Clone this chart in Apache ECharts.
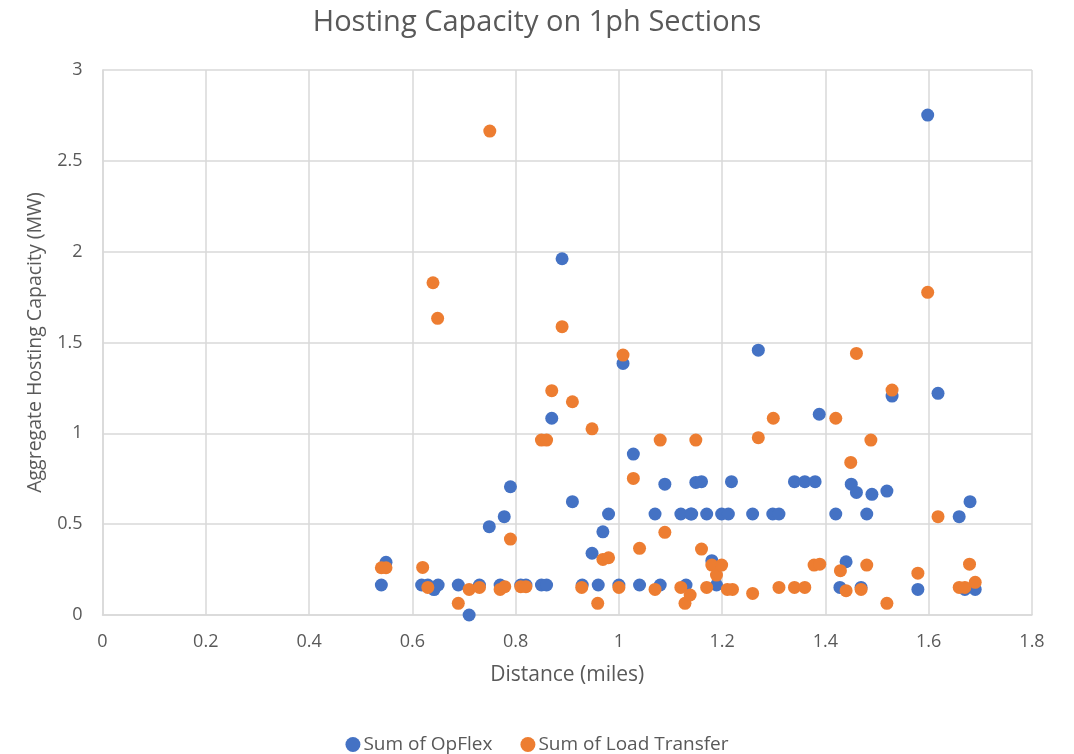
<!DOCTYPE html>
<html>
<head>
<meta charset="utf-8">
<script src="https://cdn.jsdelivr.net/npm/echarts@6/dist/echarts.min.js"></script>
<style>
  html, body { margin: 0; padding: 0; background: #fff; }
  #chart { width: 1074px; height: 754px; }
</style>
</head>
<body>
<div id="chart"></div>
<script>
// Distance (miles) and aggregate hosting capacity (MW) per 1ph section
const opflexX = [0.54, 0.549, 0.618, 0.63, 0.642, 0.65, 0.689, 0.71, 0.73, 0.749, 0.77, 0.778, 0.79, 0.81, 0.82, 0.85, 0.86, 0.87, 0.89, 0.91, 0.929, 0.948, 0.96, 0.969, 0.98, 1.0, 1.008, 1.028, 1.04, 1.07, 1.08, 1.089, 1.12, 1.13, 1.139, 1.141, 1.149, 1.16, 1.17, 1.18, 1.189, 1.199, 1.212, 1.218, 1.259, 1.27, 1.298, 1.31, 1.34, 1.36, 1.38, 1.388, 1.42, 1.428, 1.44, 1.45, 1.46, 1.469, 1.48, 1.49, 1.519, 1.529, 1.579, 1.598, 1.618, 1.659, 1.67, 1.68, 1.69];
const opflexY = [0.165, 0.29, 0.165, 0.165, 0.14, 0.165, 0.165, 0.0, 0.165, 0.486, 0.165, 0.541, 0.706, 0.165, 0.165, 0.165, 0.165, 1.083, 1.961, 0.624, 0.165, 0.34, 0.165, 0.458, 0.556, 0.165, 1.385, 0.886, 0.165, 0.556, 0.165, 0.72, 0.556, 0.165, 0.556, 0.556, 0.73, 0.734, 0.556, 0.299, 0.165, 0.556, 0.556, 0.734, 0.556, 1.458, 0.556, 0.556, 0.734, 0.734, 0.734, 1.105, 0.556, 0.152, 0.293, 0.72, 0.675, 0.152, 0.556, 0.664, 0.682, 1.205, 0.141, 2.752, 1.22, 0.541, 0.141, 0.624, 0.141];

const loadTransferX = [0.54, 0.549, 0.62, 0.63, 0.64, 0.649, 0.689, 0.71, 0.73, 0.75, 0.77, 0.779, 0.79, 0.81, 0.82, 0.85, 0.86, 0.87, 0.89, 0.91, 0.928, 0.948, 0.959, 0.969, 0.98, 1.0, 1.008, 1.028, 1.04, 1.07, 1.08, 1.089, 1.12, 1.128, 1.138, 1.149, 1.16, 1.17, 1.18, 1.189, 1.199, 1.21, 1.22, 1.259, 1.27, 1.299, 1.31, 1.34, 1.36, 1.378, 1.389, 1.42, 1.429, 1.44, 1.449, 1.46, 1.469, 1.48, 1.488, 1.519, 1.529, 1.579, 1.598, 1.618, 1.659, 1.67, 1.679, 1.69];
const loadTransferY = [0.26, 0.26, 0.262, 0.152, 1.829, 1.633, 0.064, 0.141, 0.152, 2.664, 0.141, 0.156, 0.418, 0.156, 0.156, 0.963, 0.963, 1.235, 1.587, 1.174, 0.152, 1.025, 0.064, 0.306, 0.315, 0.152, 1.431, 0.752, 0.367, 0.141, 0.963, 0.455, 0.152, 0.064, 0.11, 0.963, 0.363, 0.152, 0.275, 0.22, 0.275, 0.141, 0.141, 0.119, 0.976, 1.083, 0.152, 0.152, 0.152, 0.275, 0.28, 1.083, 0.244, 0.134, 0.84, 1.44, 0.141, 0.275, 0.963, 0.064, 1.238, 0.23, 1.776, 0.541, 0.152, 0.152, 0.28, 0.18];

const seriesNames = ['Sum of OpFlex', 'Sum of Load Transfer'];
const xTicks = { min: 0, max: 1.8, step: 0.2 };
const yTicks = { min: 0, max: 3, step: 0.5 };

const pairs = (xs, ys) => xs.map((x, i) => [x, ys[i]]);

const textColor = '#595959';
const gridColor = '#d9d9d9';
const font = '"Open Sans", "Noto Sans", sans-serif';

const chart = echarts.init(document.getElementById('chart'), null, { renderer: 'canvas' });
chart.setOption({
  animation: false,
  backgroundColor: '#ffffff',
  title: {
    text: 'Hosting Capacity on 1ph Sections',
    left: 'center',
    top: 3,
    textStyle: { fontFamily: font, fontSize: 29, fontWeight: 'normal', color: textColor }
  },
  legend: {
    top: 730,
    left: 'center',
    itemGap: 28,
    itemWidth: 15,
    itemHeight: 15,
    icon: 'circle',
    textStyle: { fontFamily: font, fontSize: 19, color: textColor, padding: [0, 0, 0, -2] },
    data: seriesNames
  },
  grid: { left: 102.5, right: 42, top: 70, bottom: 139, containLabel: false },
  xAxis: {
    type: 'value',
    min: xTicks.min, max: xTicks.max, interval: xTicks.step,
    name: 'Distance (miles)',
    nameLocation: 'middle',
    nameGap: 50,
    nameTextStyle: { fontFamily: font, fontSize: 21, color: textColor },
    axisLine: { show: true, lineStyle: { color: gridColor, width: 1.5 } },
    axisTick: { show: false },
    axisLabel: { fontFamily: font, fontSize: 18, color: textColor, margin: 18,
                 formatter: v => String(Math.round(v * 10) / 10) },
    splitLine: { show: true, lineStyle: { color: gridColor, width: 1.5 } }
  },
  yAxis: {
    type: 'value',
    min: yTicks.min, max: yTicks.max, interval: yTicks.step,
    name: 'Aggregate Hosting Capacity (MW)',
    nameLocation: 'middle',
    nameGap: 57,
    nameTextStyle: { fontFamily: font, fontSize: 19.5, color: textColor },
    axisLine: { show: true, lineStyle: { color: gridColor, width: 1.5 } },
    axisTick: { show: false },
    axisLabel: { fontFamily: font, fontSize: 18, color: textColor, margin: 20 },
    splitLine: { show: true, lineStyle: { color: gridColor, width: 1.5 } }
  },
  series: [
    {
      name: seriesNames[0],
      type: 'scatter',
      symbolSize: 13,
      itemStyle: { color: '#4472C4', opacity: 1 },
      data: pairs(opflexX, opflexY)
    },
    {
      name: seriesNames[1],
      type: 'scatter',
      symbolSize: 13,
      itemStyle: { color: '#ED7D31', opacity: 1 },
      data: pairs(loadTransferX, loadTransferY)
    }
  ]
});
</script>
</body>
</html>
